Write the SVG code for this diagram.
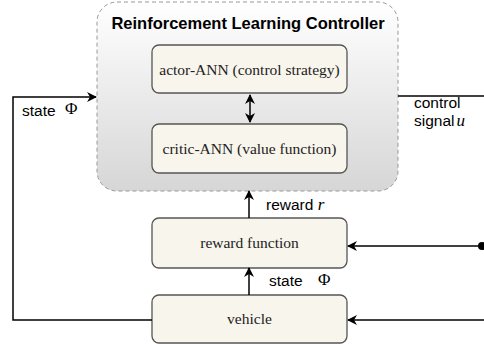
<svg xmlns="http://www.w3.org/2000/svg" width="484" height="344" viewBox="0 0 484 344">
<defs>
<linearGradient id="g" x1="0" y1="0" x2="0" y2="1">
<stop offset="0" stop-color="#ffffff"/>
<stop offset="1" stop-color="#d6d6d6"/>
</linearGradient>
<marker id="ah" markerWidth="10" markerHeight="10" refX="9" refY="5" orient="auto" markerUnits="userSpaceOnUse">
<path d="M0,0 L10,5 L0,10 L3,5 Z" fill="#000"/>
</marker>
<marker id="as" markerWidth="10" markerHeight="10" refX="1" refY="5" orient="auto" markerUnits="userSpaceOnUse">
<path d="M10,0 L0,5 L10,10 L7,5 Z" fill="#000"/>
</marker>
</defs>
<style>
.box{fill:#f8f5ec;stroke:#555;stroke-width:1.3}
.lbl{font-family:"Liberation Serif",serif;font-size:15.5px;fill:#222;text-anchor:middle}
.sans{font-family:"Liberation Sans",Arial,sans-serif;font-size:15.5px;fill:#000}
.math{font-family:"Liberation Serif",serif;font-style:italic;font-size:17px;fill:#000}
.phi{font-family:"Liberation Serif",serif;font-size:17px;fill:#000}
.ln{fill:none;stroke:#000;stroke-width:1.5}
</style>
<g id="controller">
<rect x="97" y="2" width="301" height="189" rx="20" fill="url(#g)" stroke="#999" stroke-dasharray="4 3"/>
<text x="248" y="29" font-family="Liberation Sans,Arial,sans-serif" font-weight="bold" font-size="16.5" text-anchor="middle">Reinforcement Learning Controller</text>
</g>
<g id="actor">
<rect class="box" x="152" y="45" width="195" height="48" rx="7"/>
<text class="lbl" x="249.5" y="75">actor-ANN (control strategy)</text>
</g>
<g id="critic">
<rect class="box" x="152" y="124" width="195" height="49" rx="7"/>
<text class="lbl" x="249.5" y="154">critic-ANN (value function)</text>
</g>
<g id="reward">
<rect class="box" x="152" y="218" width="195" height="50" rx="7"/>
<text class="lbl" x="249.5" y="248">reward function</text>
</g>
<g id="vehicle">
<rect class="box" x="152" y="295" width="195" height="48" rx="7"/>
<text class="lbl" x="249.5" y="324">vehicle</text>
</g>
<g id="connectors">
<line class="ln" x1="250" y1="95" x2="250" y2="122" marker-start="url(#as)" marker-end="url(#ah)"/>
<line class="ln" x1="249" y1="218" x2="249" y2="191" marker-end="url(#ah)"/>
<line class="ln" x1="249" y1="295" x2="249" y2="268" marker-end="url(#ah)"/>
<polyline class="ln" points="152,320 13,320 13,97 96,97" marker-end="url(#ah)"/>
<line class="ln" x1="398" y1="96" x2="484" y2="96"/>
<line class="ln" x1="482" y1="246" x2="348" y2="246" marker-end="url(#ah)"/>
<circle cx="482" cy="246" r="4" fill="#000"/>
<line class="ln" x1="484" y1="320" x2="348" y2="320" marker-end="url(#ah)"/>
<text class="sans" x="266" y="210">reward <tspan class="math">r</tspan></text>
<text class="sans" x="269" y="286">state</text>
<text class="phi" x="318" y="285">Φ</text>
<text class="sans" x="22" y="116">state</text>
<text class="phi" x="65" y="114">Φ</text>
<text class="sans" x="414" y="108">control</text>
<text class="sans" x="414" y="126">signal<tspan class="math" dx="2">u</tspan></text>
</g>
</svg>
